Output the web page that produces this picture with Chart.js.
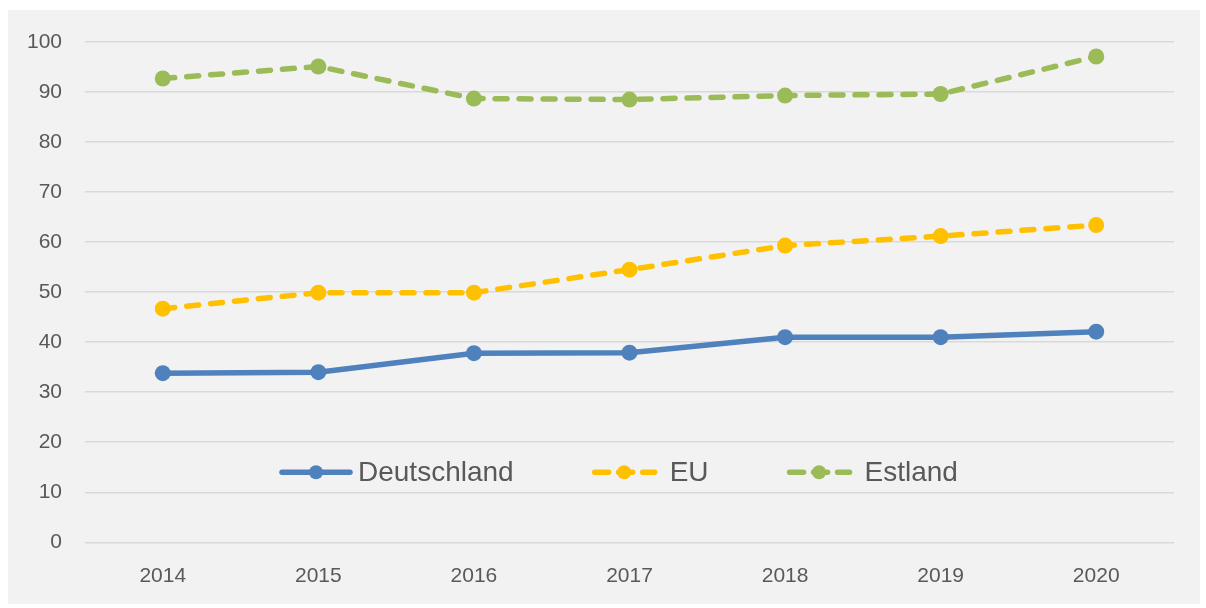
<!DOCTYPE html>
<html>
<head>
<meta charset="utf-8">
<script src="https://cdn.jsdelivr.net/npm/chart.js@4/dist/chart.umd.min.js"></script>
<style>
    html, body { margin: 0; padding: 0; background: #fff; }
    #box {
        position: absolute;
        left: 8px; top: 10px;
        width: 1192px; height: 594px;
        background: #f2f2f2;
    }
</style>
</head>
<body>
<div id="box"><canvas id="lineChart" width="1192" height="594"></canvas></div>
<script>
// Chart data
const years = ['2014', '2015', '2016', '2017', '2018', '2019', '2020'];
const deutschland = [33.8, 34.0, 37.8, 37.9, 41.0, 41.0, 42.1];
const eu = [46.7, 49.9, 49.9, 54.5, 59.3, 61.2, 63.4];
const estland = [92.7, 95.1, 88.7, 88.5, 89.3, 89.6, 97.1];
const yTicks = [0, 10, 20, 30, 40, 50, 60, 70, 80, 90, 100];

const textColor = '#595959';
const fontFamily = '"Liberation Sans", Arial, sans-serif';

// Legend drawn inside the plot area, like the original
const insideLegend = {
    id: 'insideLegend',
    afterDatasetsDraw(chart) {
        const ctx = chart.ctx;
        const y = chart.scales.y.getPixelForValue(14);
        let x = chart.chartArea.left + 195;
        ctx.save();
        ctx.font = '28px ' + fontFamily;
        ctx.textBaseline = 'middle';
        ctx.fillStyle = textColor;
        chart.data.datasets.forEach((ds, i) => {
            const dashed = ds.borderDash && ds.borderDash.length;
            const w = dashed ? 65 : 72;
            ctx.strokeStyle = ds.borderColor;
            ctx.lineWidth = ds.borderWidth;
            ctx.lineCap = 'round';
            ctx.setLineDash(dashed ? [14, 10] : []);
            ctx.lineDashOffset = dashed ? -1 : 0;
            ctx.beginPath();
            ctx.moveTo(x + 2, y);
            ctx.lineTo(x + w - 2, y);
            ctx.stroke();
            ctx.setLineDash([]);
            ctx.fillStyle = ds.borderColor;
            ctx.beginPath();
            ctx.arc(x + w / 2, y, 7, 0, Math.PI * 2);
            ctx.fill();
            x += w + (dashed ? 13 : 6);
            ctx.fillStyle = textColor;
            ctx.fillText(ds.label, x, y + 1);
            x += ctx.measureText(ds.label).width + 78;
        });
        ctx.restore();
    }
};

const ctx = document.getElementById('lineChart');
new Chart(ctx, {
    type: 'line',
    data: {
        labels: years,
        datasets: [{
            label: 'Deutschland',
            data: deutschland,
            borderColor: '#4f81bd',
            backgroundColor: '#4f81bd',
            borderWidth: 5.5,
            pointRadius: 8,
            pointBorderWidth: 0,
            pointBackgroundColor: '#4f81bd'
        }, {
            label: 'EU',
            data: eu,
            borderColor: '#ffc000',
            backgroundColor: '#ffc000',
            borderWidth: 5.5,
            borderDash: [12, 12],
            borderCapStyle: 'round',
            pointRadius: 8,
            pointBorderWidth: 0,
            pointBackgroundColor: '#ffc000'
        }, {
            label: 'Estland',
            data: estland,
            borderColor: '#9bbb59',
            backgroundColor: '#9bbb59',
            borderWidth: 5.5,
            borderDash: [12, 12],
            borderCapStyle: 'round',
            pointRadius: 8,
            pointBorderWidth: 0,
            pointBackgroundColor: '#9bbb59'
        }]
    },
    options: {
        responsive: false,
        animation: false,
        layout: {
            padding: { top: 32, right: 26, bottom: 0, left: 0 }
        },
        scales: {
            x: {
                offset: true,
                grid: { display: false },
                border: { display: false },
                ticks: {
                    color: textColor,
                    font: { family: fontFamily, size: 21 },
                    padding: 13
                },
                afterFit(scale) { scale.height = 61.7; }
            },
            y: {
                min: 0,
                max: 100,
                afterBuildTicks(scale) {
                    scale.ticks = yTicks.map(v => ({ value: v }));
                },
                grid: {
                    color: '#d9d9d9',
                    lineWidth: 1.5,
                    drawTicks: false
                },
                border: { display: false },
                ticks: {
                    color: textColor,
                    font: { family: fontFamily, size: 21 },
                    padding: 23
                },
                afterFit(scale) {
                    // fixed axis width, and no extra room above the top label
                    scale.width = 77;
                    scale.paddingTop = 12;
                    scale.paddingBottom = 12;
                }
            }
        },
        plugins: {
            legend: { display: false },
            tooltip: { enabled: false }
        }
    },
    plugins: [insideLegend]
});
</script>
</body>
</html>
